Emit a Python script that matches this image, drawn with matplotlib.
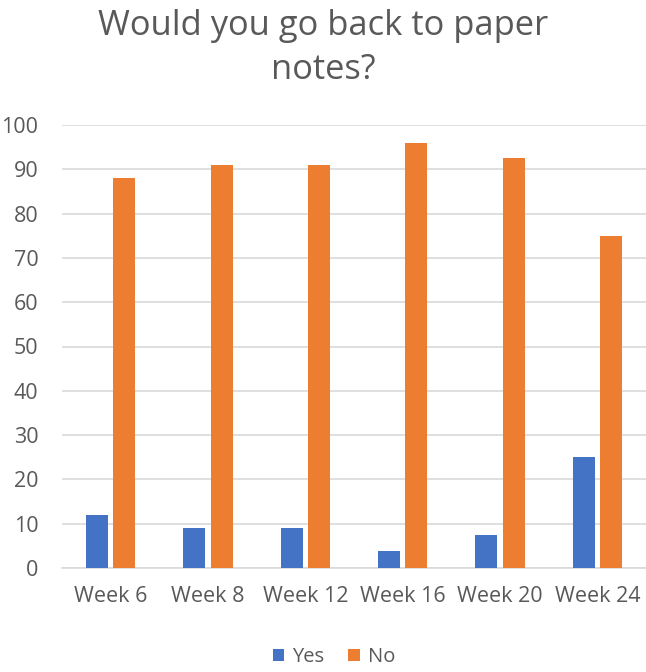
import matplotlib
matplotlib.use("Agg")
import matplotlib.pyplot as plt
import numpy as np

categories = ["Week 6", "Week 8", "Week 12", "Week 16", "Week 20", "Week 24"]
yes_vals = [12, 9, 9, 3.8, 7.4, 25]
no_vals = [88, 91, 91, 96, 92.5, 75]
y_ticks = [0, 10, 20, 30, 40, 50, 60, 70, 80, 90, 100]

plt.rcParams['font.family'] = ['Open Sans', 'DejaVu Sans']
txt = '#595959'

fig = plt.figure(figsize=(6.46, 6.72), dpi=100)
ax = fig.add_axes([62/646, 1-568/672, 584/646, (568-125)/672])

x = np.arange(len(categories))
w = 0.226
off = 0.139
ax.bar(x - off, yes_vals, width=w, color='#4472C4', label='Yes', zorder=3)
ax.bar(x + off, no_vals, width=w, color='#ED7D31', label='No', zorder=3)

ax.set_xlim(-0.5, len(categories) - 0.5)
ax.set_ylim(0, 100)
ax.set_yticks(y_ticks)
ax.set_xticks(x)
ax.set_xticklabels(categories)
ax.tick_params(axis='both', length=0, labelsize=15.5, colors=txt)
ax.tick_params(axis='y', pad=17)
ax.tick_params(axis='x', pad=13)
ax.grid(axis='y', color='#D9D9D9', linewidth=1.2, zorder=0)
for s in ['top', 'right', 'left']:
    ax.spines[s].set_visible(False)
ax.spines['bottom'].set_color('#D9D9D9')
ax.spines['bottom'].set_linewidth(1.2)

fig.text(0.5, 1 - 48/672, "Would you go back to paper\nnotes?", ha='center', va='center',
         fontsize=24.8, color=txt, linespacing=1.42)

leg = fig.legend(loc='center', bbox_to_anchor=(334/646, 1 - 657/672), ncol=2, frameon=False,
                 fontsize=14.5, handlelength=0.55, handleheight=0.55, handletextpad=0.4,
                 columnspacing=1.2, labelcolor=txt)

fig.savefig("out.png", dpi=100, facecolor='white')
